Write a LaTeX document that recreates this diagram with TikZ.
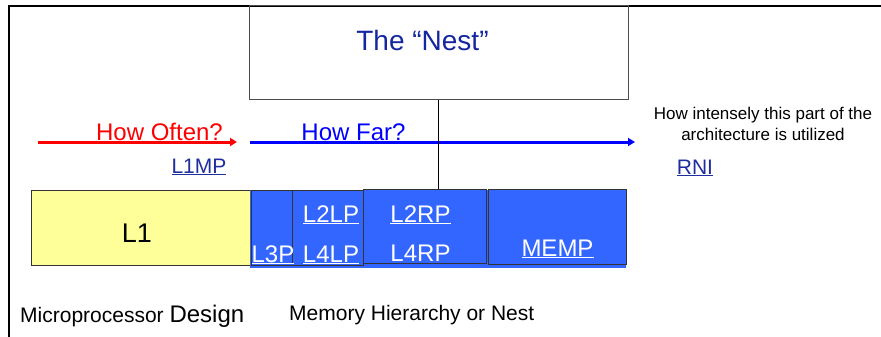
\documentclass[tikz,border=0pt]{standalone}
\usepackage{fontspec}
\setmainfont{Liberation Sans}
\usepackage{tikz}
\usetikzlibrary{arrows.meta, positioning, calc}
\definecolor{nestblue}{HTML}{1426A0}
\definecolor{linkblue}{HTML}{1F2E9E}
\definecolor{boxblue}{HTML}{3366FF}
\definecolor{l1yellow}{HTML}{FFFF99}

\begin{document}
\begin{tikzpicture}[
    x=1pt, y=-1pt,
    box/.style={draw=black!80, line width=1pt, rectangle, inner sep=0pt},
    bluebox/.style={box, fill=boxblue},
    txt/.style={anchor=base, inner sep=0pt},
    big/.style={txt, font=\fontsize{28}{32}\selectfont},
    mid/.style={txt, font=\fontsize{24}{28}\selectfont},
    small/.style={txt, font=\fontsize{21}{25}\selectfont},
    note/.style={font=\fontsize{17}{21}\selectfont, align=center, inner sep=0pt},
    inbox/.style={mid, text=white},
    arrow/.style={-{Triangle[length=7pt, width=8pt]}, line width=3pt}
]
  \useasboundingbox (0,0) rectangle (881,337);
  % frame
  \draw[line width=1.6pt] (9,337) |- (881,6);

  \node[box, draw=black!70, minimum width=379pt, minimum height=93pt] (nest) at (438.5,52.5) {};
  \node[big, text=nestblue] (nesttxt) at (422.5,51) {The “Nest”};

  % arrows
  \coordinate (often-s) at (38,142);
  \coordinate (often-e) at (237,142);
  \coordinate (far-s) at (250,142);
  \coordinate (far-e) at (635,142);
  \draw[arrow, red] (often-s) -- (often-e);
  \draw[arrow, blue] (far-s) -- (far-e);
  \node[mid, text=red] (often) at (159.5,140) {How Often?};
  \node[mid, text=blue] (far) at (353.5,140) {How Far?};

  \node[small, text=linkblue] (l1mp) at (199,173) {\underline{L1MP}};
  \node[small, text=linkblue] (rni) at (695,174) {\underline{RNI}};
  \node[note] (intense) at (763,124) {How intensely this part of the\\architecture is utilized};

  % L1
  \node[box, fill=l1yellow, minimum width=219pt, minimum height=75pt] (l1) at (140.5,227.5) {};
  \node[txt, font=\fontsize{27}{30}\selectfont] (l1txt) at (137,242) {L1};

  % memory hierarchy
  \fill[boxblue] (250,190) rectangle (626,268);
  \node[bluebox, minimum width=112pt, minimum height=75pt] (lbox) at (307,227.5) {};
  \node[bluebox, minimum width=123pt, minimum height=74pt] (rbox) at (424.5,226) {};
  \node[bluebox, minimum width=138pt, minimum height=75pt] (mbox) at (557,226.5) {};
  \draw[line width=1pt, black!80] ($(lbox.north west)+(42,1)$) -- ($(lbox.south west)+(42,-3)$);

  \node[inbox] (l3p) at (273,262) {\underline{L3P}};
  \node[inbox] (l2lp) at (331,222) {\underline{L2LP}};
  \node[inbox] (l4lp) at (331,262) {\underline{L4LP}};
  \node[inbox] (l2rp) at (420.5,222) {\underline{L2RP}};
  \node[inbox] (l4rp) at (420.5,261) {L4RP};
  \node[inbox] (memp) at (557.5,256) {\underline{MEMP}};

  \draw[line width=1pt] (nest.south) -- (nest.south |- rbox.north);

  % captions
  \node[small, anchor=base west] (micro) at (20,322) {Microprocessor {\fontsize{24}{28}\selectfont Design}};
  \node[small, anchor=base west] (memh) at (289,320) {Memory Hierarchy or Nest};
\end{tikzpicture}
\end{document}
